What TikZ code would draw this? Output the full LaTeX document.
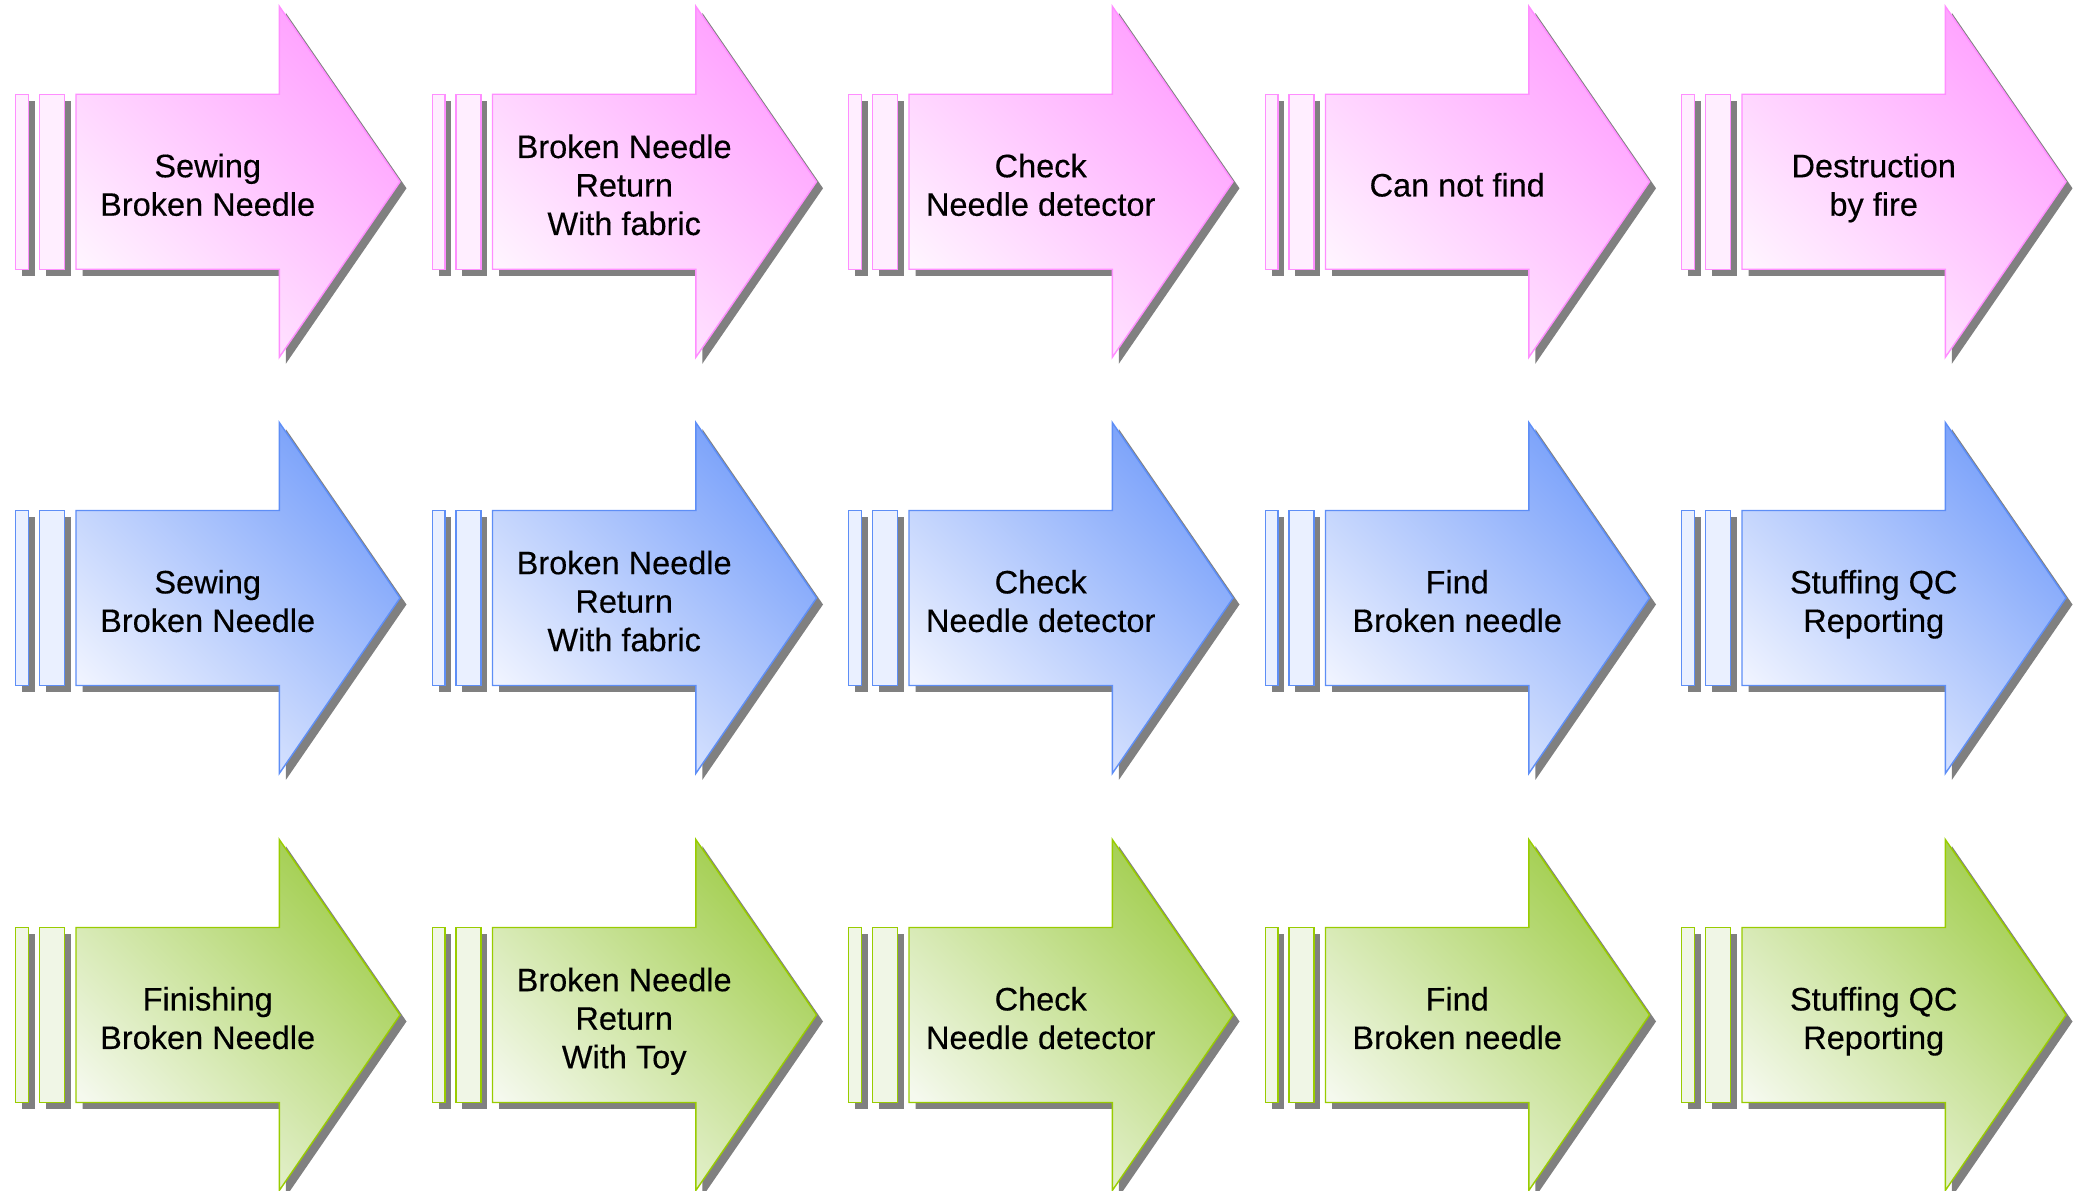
\documentclass[tikz,border=0pt]{standalone}
\usepackage{fontspec}
\setmainfont{Liberation Sans}
\newfontfamily\lblfont{Liberation Sans}[FakeBold=0.35]
\definecolor{pinkD}{HTML}{FFA0FF}
\definecolor{pinkL}{HTML}{FFF4FF}
\definecolor{pinkB}{HTML}{FFEEFF}
\definecolor{pinkE}{HTML}{FF8EFF}
\definecolor{blueD}{HTML}{78A0FA}
\definecolor{blueL}{HTML}{EFF3FF}
\definecolor{blueB}{HTML}{EAF0FF}
\definecolor{blueE}{HTML}{5E8EF6}
\definecolor{greenD}{HTML}{A2CE4E}
\definecolor{greenL}{HTML}{F5F9EE}
\definecolor{greenB}{HTML}{F0F6E6}
\definecolor{greenE}{HTML}{99CC00}
\definecolor{shadowgray}{HTML}{808080}
\tikzset{
  shd/.style={fill=shadowgray},
  lbl/.style={align=center, font=\lblfont\fontsize{32.5}{38.5}\selectfont, text=black, inner sep=0pt},
  pinkarrow/.style={draw=pinkE, line width=1.4pt, top color=pinkD, bottom color=pinkL, shading angle=-45},
  pinkbar/.style={draw=pinkE, line width=1.4pt, fill=pinkB},
  bluearrow/.style={draw=blueE, line width=1.4pt, top color=blueD, bottom color=blueL, shading angle=-45},
  bluebar/.style={draw=blueE, line width=1.4pt, fill=blueB},
  greenarrow/.style={draw=greenE, line width=1.4pt, top color=greenD, bottom color=greenL, shading angle=-45},
  greenbar/.style={draw=greenE, line width=1.4pt, fill=greenB},
}
% #1 node name, #2 left x, #3 centre y, #4 palette, #5 text
\newcommand\flowarrow[5]{%
  \begin{scope}[shift={(#2,#3)}]
    \fill[shd] (6.5,-94) rectangle (19.1,81);
    \fill[shd] (30.1,-94) rectangle (55.1,81);
    \fill[shd] (66.8,-94) -- (66.8,81) -- (270.1,81) -- (270.1,169) -- (390.8,-6.5)
      -- (270.1,-182) -- (270.1,-94) -- cycle;
    \path[#4bar] (0,-87.5) rectangle (12.6,87.5);
    \path[#4bar] (23.6,-87.5) rectangle (48.6,87.5);
    \path[#4arrow] (60.3,-87.5) -- (60.3,87.5) -- (263.6,87.5) -- (263.6,175.5)
      -- (384.3,0) -- (263.6,-175.5) -- (263.6,-87.5) -- cycle;
    \node[lbl] (#1) at (192,-7) {\strut#5\strut};
  \end{scope}}
\begin{document}
\begin{tikzpicture}[x=1pt,y=1pt]
  \useasboundingbox (0,0) rectangle (2078,1191);
  % row 1
  \flowarrow{a1}{15.7}{1009.2}{pink}{Sewing\\Broken Needle}
  \flowarrow{a2}{432.2}{1009.2}{pink}{Broken Needle\\Return\\With fabric}
  \flowarrow{a3}{848.7}{1009.2}{pink}{Check\\Needle detector}
  \flowarrow{a4}{1265.2}{1009.2}{pink}{Can not find}
  \flowarrow{a5}{1681.7}{1009.2}{pink}{Destruction\\by fire}
  % row 2
  \flowarrow{b1}{15.7}{593}{blue}{Sewing\\Broken Needle}
  \flowarrow{b2}{432.2}{593}{blue}{Broken Needle\\Return\\With fabric}
  \flowarrow{b3}{848.7}{593}{blue}{Check\\Needle detector}
  \flowarrow{b4}{1265.2}{593}{blue}{Find\\Broken needle}
  \flowarrow{b5}{1681.7}{593}{blue}{Stuffing QC\\Reporting}
  % row 3
  \flowarrow{c1}{15.7}{176}{green}{Finishing\\Broken Needle}
  \flowarrow{c2}{432.2}{176}{green}{Broken Needle\\Return\\With Toy}
  \flowarrow{c3}{848.7}{176}{green}{Check\\Needle detector}
  \flowarrow{c4}{1265.2}{176}{green}{Find\\Broken needle}
  \flowarrow{c5}{1681.7}{176}{green}{Stuffing QC\\Reporting}
\end{tikzpicture}
\end{document}
